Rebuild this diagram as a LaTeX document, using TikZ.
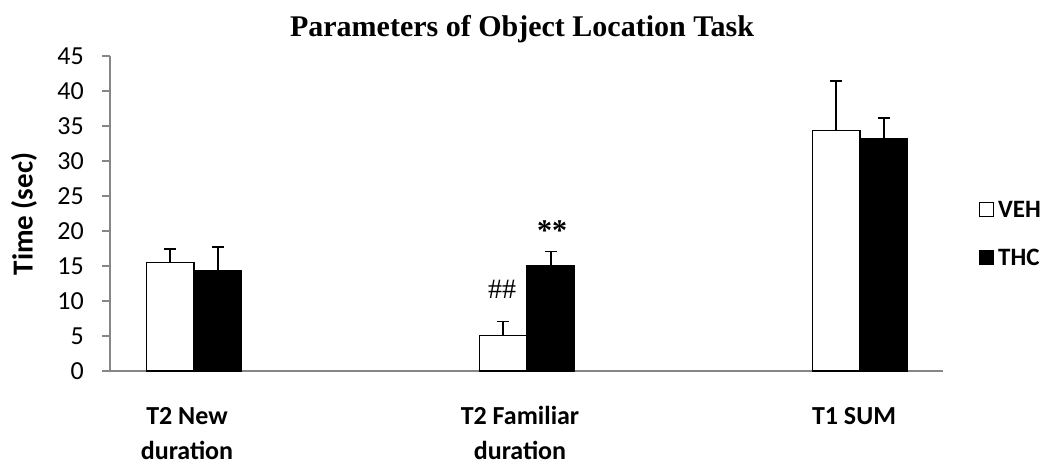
\documentclass[tikz,border=0pt]{standalone}
\usepackage{fontspec}
\setmainfont{Carlito}
\newfontfamily\tms{Liberation Serif}
\definecolor{axisgray}{HTML}{868686}
\newcommand\mybar[4]{%
  \draw[#1] (#2,371) rectangle ({#2+47.5},{371-7*#3});
  \draw[errbar] ({#2+23.75},{371-7*#3}) -- ({#2+23.75},{371-7*#4});
  \draw[errbar] ({#2+23.75-6},{371-7*#4}) -- ({#2+23.75+6},{371-7*#4});
}
\begin{document}
\begin{tikzpicture}[x=1pt,y=-1pt,
  axisline/.style={draw=axisgray, line width=1.3pt},
  vehbar/.style={draw=black, fill=white, line width=1.3pt},
  thcbar/.style={draw=black, fill=black, line width=1.3pt},
  errbar/.style={draw=black, line width=1.6pt},
  ticklbl/.style={anchor=east, font=\fontsize{26}{30}\selectfont, inner sep=0pt},
  catlbl/.style={anchor=base, font=\fontsize{26}{30}\selectfont\bfseries, inner sep=0pt},
  legtxt/.style={anchor=west, font=\fontsize{25}{29}\selectfont\bfseries, inner sep=0pt},
  legkey/.style={draw=black, line width=1pt, minimum size=14pt, inner sep=0pt},
  sigmark/.style={anchor=center, inner sep=0pt}]
\useasboundingbox (0,0) rectangle (1046,465);
% title
\node[anchor=base, inner sep=0pt, font=\fontsize{30}{34}\selectfont\tms\bfseries] (title) at (522,37) {Parameters of Object Location Task};
% axes
\draw[axisline] (110,371) -- (943,371);
\draw[axisline] (110,371) -- (110,56);
\foreach \k in {0,...,9}{
  \draw[axisline] (102,{371-35*\k}) -- (110,{371-35*\k});
  \pgfmathtruncatemacro\v{5*\k}
  \node[ticklbl] (tick\k) at (84,{371-35*\k}) {\v};
}
\node[rotate=90, inner sep=0pt, font=\fontsize{29}{32}\selectfont\bfseries] (ylabel) at (24,214) {Time (sec)};
% bars
\mybar{vehbar}{146.5}{15.5}{17.4}
\mybar{thcbar}{194}{14.3}{17.75}
\mybar{vehbar}{479.5}{5.05}{7.1}
\mybar{thcbar}{527}{15.05}{17.05}
\mybar{vehbar}{812.5}{34.4}{41.4}
\mybar{thcbar}{860}{33.2}{36.1}
% significance marks
\node[sigmark, font=\fontsize{28}{30}\selectfont\tms] (hash) at (502,289.5) {\#\#};
\node[sigmark, font=\fontsize{30}{32}\selectfont\tms\bfseries] (stars) at (552,231) {**};
% category labels
\node[catlbl] (c1a) at (187,424) {T2 New};
\node[catlbl] (c1b) at (187,459) {duration};
\node[catlbl] (c2a) at (520,424) {T2 Familiar};
\node[catlbl] (c2b) at (520,459) {duration};
\node[catlbl] (c3a) at (854,424) {T1 SUM};
% legend
\node[legkey, fill=white] (vehkey) at (986,209.5) {};
\node[legtxt] (vehtxt) at (998,209.5) {VEH};
\node[legkey, fill=black] (thckey) at (986,257) {};
\node[legtxt] (thctxt) at (998,257) {THC};
\end{tikzpicture}
\end{document}
